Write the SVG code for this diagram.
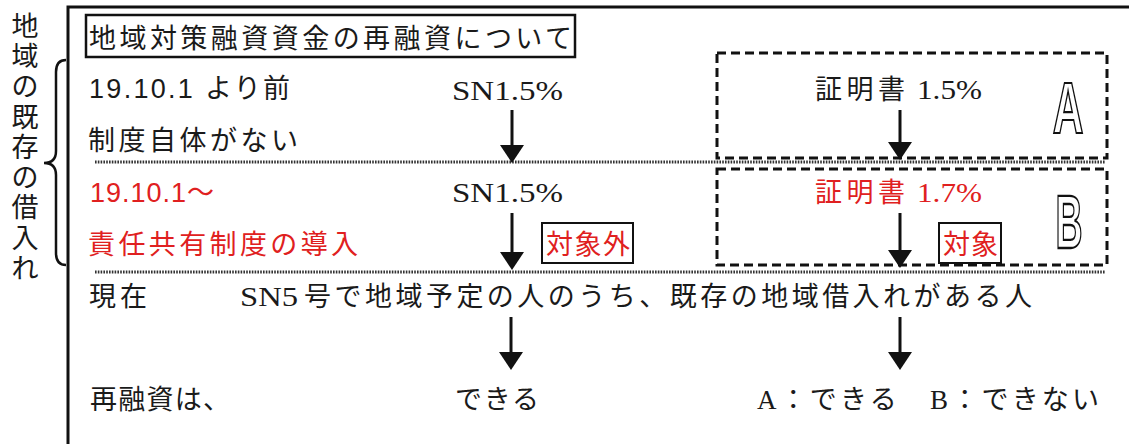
<svg xmlns="http://www.w3.org/2000/svg" width="1129" height="444" viewBox="0 0 1129 444">
<style>
  .t { font-family: "Liberation Serif", "Noto Sans CJK JP", serif; font-size: 27px; fill: #1a1a1a; }
  .s { font-family: "Liberation Sans", "Noto Sans CJK JP", sans-serif; font-size: 27px; fill: #1a1a1a; }
  .red { fill: #e02020; }
  .big { font-family: "Liberation Sans", "DejaVu Sans", sans-serif; font-weight: bold; font-size: 72px; fill: #fff; stroke: #111; stroke-width: 2.2; }
  .dot { stroke: #333; stroke-width: 3; stroke-dasharray: 1.6 1.2; fill: none; }
  .dash { stroke: #111; stroke-width: 3; stroke-dasharray: 9 5; fill: none; }
  .box { stroke: #111; stroke-width: 2; fill: #fff; }
  .arr { stroke: #111; stroke-width: 3; fill: none; marker-end: url(#ah); }
</style>
<defs>
  <marker id="ah" viewBox="0 0 18 24" refX="12" refY="12" markerWidth="18" markerHeight="24" markerUnits="userSpaceOnUse" orient="auto">
    <path d="M0,0 L18,12 L0,24 Z" fill="#111"/>
  </marker>
</defs>
<rect width="1129" height="444" fill="#fff"/>

<!-- outer frame -->
<path d="M68,444 L68,7 L1129,7" fill="none" stroke="#111" stroke-width="3"/>

<!-- left vertical label and brace -->
<g id="side-label">
  <text class="t" text-anchor="middle" font-size="25" x="25 25 25 25 25 25 25 25 25" y="36 66 96 127 157 187 217 248 278">地域の既存の借入れ</text>
  <path d="M66,60 Q56,60 56,72 L56,151 Q56,163 44,163 Q56,163 56,175 L56,253 Q56,265 66,265" fill="none" stroke="#111" stroke-width="2.5"/>
</g>

<!-- title -->
<g id="title">
  <rect x="86" y="15" width="489" height="42" fill="#fff" stroke="#111" stroke-width="2.5"/>
  <text class="t" x="89" y="48" textLength="483" lengthAdjust="spacing">地域対策融資資金の再融資について</text>
</g>

<!-- separators -->
<g id="separators">
  <line class="dot" x1="95" y1="162" x2="1105" y2="162"/>
  <line class="dot" x1="95" y1="272" x2="1105" y2="272"/>
</g>

<!-- box A -->
<g id="boxA">
  <rect class="dash" x="717" y="53" width="390" height="105"/>
  <text class="t" x="815" y="99" textLength="90" lengthAdjust="spacing">証明書</text>
  <text class="t" x="917" y="99" textLength="65" lengthAdjust="spacingAndGlyphs">1.5%</text>
  <text class="big" transform="translate(1068,133) scale(0.59,1)" text-anchor="middle">A</text>
</g>

<!-- box B -->
<g id="boxB">
  <rect class="dash" x="717" y="169" width="390" height="96"/>
  <text class="t red" x="815" y="202" textLength="90" lengthAdjust="spacing">証明書</text>
  <text class="t red" x="917" y="202" textLength="65" lengthAdjust="spacingAndGlyphs">1.7%</text>
  <text class="big" transform="translate(1069,248) scale(0.52,1.05)" text-anchor="middle">B</text>
</g>

<!-- row 1 -->
<g id="row1">
  <text class="s" x="89" y="98" textLength="201" lengthAdjust="spacing">19.10.1 より前</text>
  <text class="t" x="88" y="150" textLength="210" lengthAdjust="spacing">制度自体がない</text>
  <text class="t" x="452" y="100" textLength="111" lengthAdjust="spacingAndGlyphs">SN1.5%</text>
</g>

<!-- row 2 -->
<g id="row2">
  <text class="s red" x="90" y="202" textLength="124" lengthAdjust="spacing">19.10.1～</text>
  <text class="t red" x="88" y="254" textLength="270" lengthAdjust="spacing">責任共有制度の導入</text>
  <text class="t" x="452" y="202" textLength="111" lengthAdjust="spacingAndGlyphs">SN1.5%</text>
</g>

<g id="label-taishougai">
  <rect class="box" x="542" y="223" width="91" height="40"/>
  <text class="t red" x="546" y="254" textLength="84" lengthAdjust="spacing">対象外</text>
</g>

<g id="label-taishou">
  <rect class="box" x="939" y="223" width="62" height="40"/>
  <text class="t red" x="943" y="254" textLength="55" lengthAdjust="spacing">対象</text>
</g>

<!-- row 3 -->
<g id="row3">
  <text class="t" x="89" y="306" textLength="58" lengthAdjust="spacing">現在</text>
  <text class="t" x="240" y="306" textLength="58" lengthAdjust="spacingAndGlyphs">SN5</text>
  <text class="t" x="304" y="306" textLength="728" lengthAdjust="spacing">号で地域予定の人のうち、既存の地域借入れがある人</text>
</g>

<!-- row 4 -->
<g id="row4">
  <text class="t" x="90" y="409" textLength="140" lengthAdjust="spacing">再融資は、</text>
  <text class="t" x="455" y="409" textLength="84" lengthAdjust="spacing">できる</text>
  <text class="t" x="757" y="409" textLength="342" lengthAdjust="spacing">A：できる　B：できない</text>
</g>

<!-- connectors -->
<g id="connectors">
  <line class="arr" x1="512" y1="110" x2="512" y2="157"/>
  <line class="arr" x1="512" y1="213" x2="512" y2="264"/>
  <line class="arr" x1="900" y1="110" x2="900" y2="154"/>
  <line class="arr" x1="900" y1="213" x2="900" y2="262"/>
  <line class="arr" x1="511" y1="317" x2="511" y2="364"/>
  <line class="arr" x1="900" y1="317" x2="900" y2="364"/>
</g>
</svg>
